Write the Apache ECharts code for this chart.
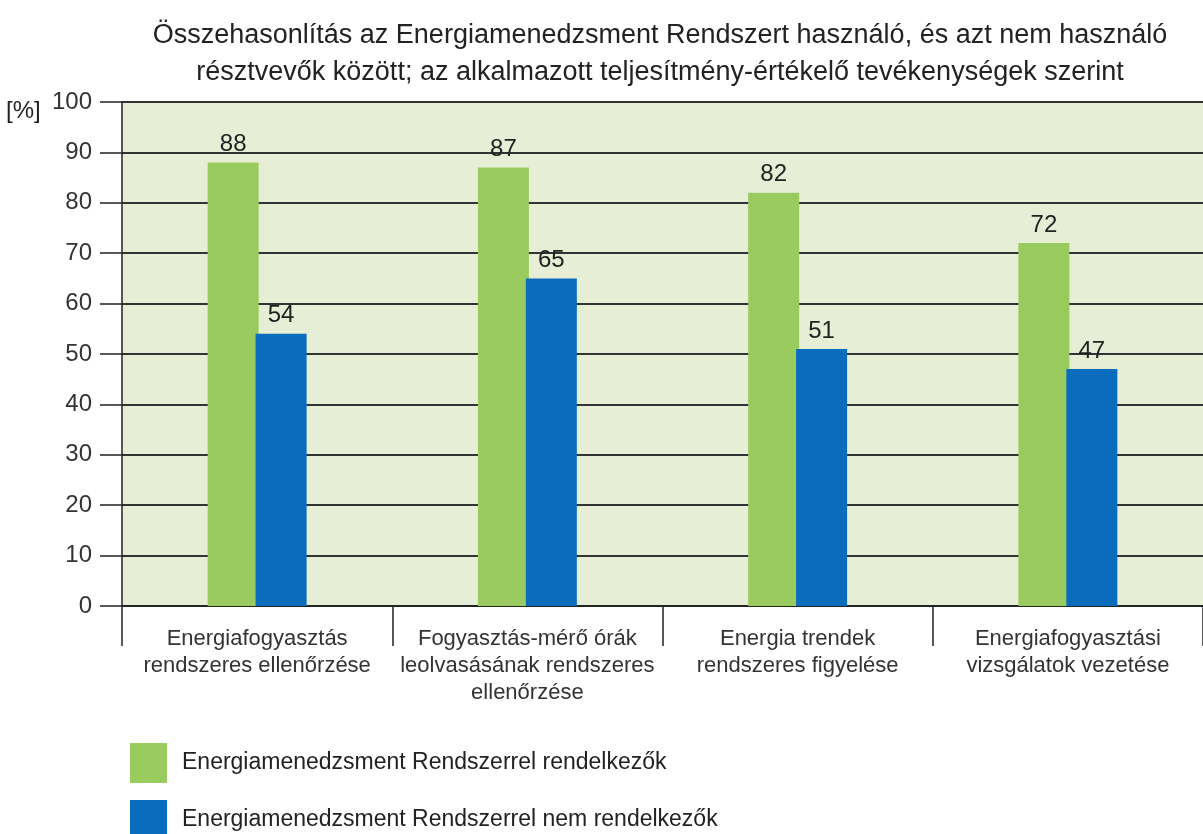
<!DOCTYPE html>
<html>
<head>
<meta charset="utf-8">
<script src="https://cdn.jsdelivr.net/npm/echarts@6/dist/echarts.min.js"></script>
<style>html,body{margin:0;padding:0;background:#fff}#c{width:1203px;height:834px}</style>
</head>
<body>
<div id="c"></div>
<script>
const categories = [
  'Energiafogyasztás\nrendszeres ellenőrzése',
  'Fogyasztás-mérő órák\nleolvasásának rendszeres\nellenőrzése',
  'Energia trendek\nrendszeres figyelése',
  'Energiafogyasztási\nvizsgálatok vezetése'
];
const seriesNames = ['Energiamenedzsment Rendszerrel rendelkezők', 'Energiamenedzsment Rendszerrel nem rendelkezők'];
const withSystem = [88, 87, 82, 72];
const withoutSystem = [54, 65, 51, 47];
const titleText = 'Összehasonlítás az Energiamenedzsment Rendszert használó, és azt nem használó\nrésztvevők között; az alkalmazott teljesítmény-értékelő tevékenységek szerint';
const yUnit = '[%]';

const chart = echarts.init(document.getElementById('c'), null, {renderer: 'canvas'});
const font = 'Liberation Sans, Arial, sans-serif';
const labelStyle = {show: true, position: 'top', distance: 6, color: '#222', fontSize: 24, fontFamily: font};
const legendBase = {
  orient: 'vertical', left: 125,
  itemWidth: 37, itemHeight: 40, itemGap: 17,
  icon: 'rect',
  textStyle: {fontSize: 23, color: '#222', fontFamily: font, padding: [0, 0, 0, 10]}
};
chart.setOption({
  backgroundColor: '#ffffff',
  animation: false,
  title: {
    text: titleText,
    left: 655, textAlign: 'center', top: 12,
    textStyle: {fontFamily: font, fontWeight: 'normal', fontSize: 27, lineHeight: 37, color: '#222'}
  },
  graphic: [{
    type: 'text', left: 6, top: 99,
    style: {text: yUnit, fontSize: 24, fontFamily: font, fill: '#222'}
  }],
  legend: [
    Object.assign({}, legendBase, {top: 738, data: [seriesNames[0]]}),
    Object.assign({}, legendBase, {top: 795, data: [seriesNames[1]]})
  ],
  grid: {left: 122, top: 102, width: 1088, height: 504, show: true, backgroundColor: '#e6efd6', borderWidth: 0},
  xAxis: {
    type: 'category', data: categories,
    axisLine: {show: true, lineStyle: {color: '#222', width: 1.5}},
    axisTick: {show: true, length: 40, lineStyle: {color: '#222', width: 1.5}},
    axisLabel: {fontSize: 22, color: '#333', lineHeight: 27, margin: 19, fontFamily: font, interval: 0}
  },
  yAxis: {
    type: 'value', min: 0, max: 100, interval: 10,
    axisLine: {show: true, lineStyle: {color: '#222', width: 1.5}},
    axisTick: {show: true, length: 22, lineStyle: {color: '#222', width: 1.5}},
    axisLabel: {fontSize: 24, color: '#333', margin: 30, fontFamily: font},
    splitLine: {show: true, lineStyle: {color: '#333', width: 2}}
  },
  series: [
    {name: seriesNames[0], type: 'bar', data: withSystem, barWidth: 51, barGap: '-6%',
     itemStyle: {color: '#9acb5e'}, label: labelStyle},
    {name: seriesNames[1], type: 'bar', data: withoutSystem, barWidth: 51,
     itemStyle: {color: '#0a6cbd'}, label: labelStyle}
  ]
});
</script>
</body>
</html>
